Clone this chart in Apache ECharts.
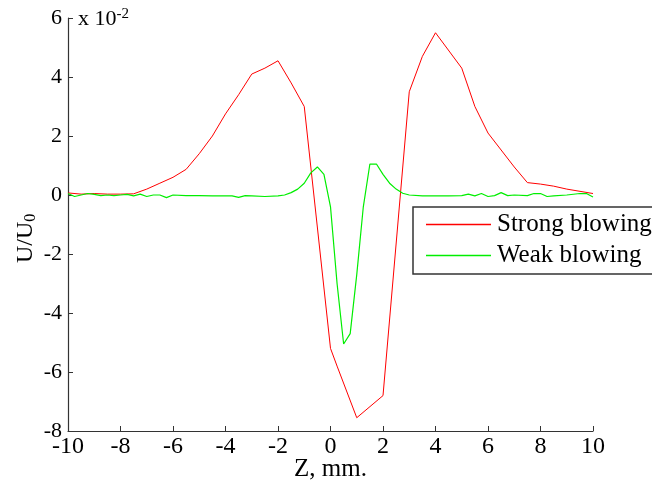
<!DOCTYPE html>
<html><head><meta charset="utf-8">
<script src="https://cdn.jsdelivr.net/npm/echarts@6/dist/echarts.min.js"></script>
<style>html,body{margin:0;padding:0;background:#fff}#c{width:652px;height:484px}</style>
</head><body><div id="c"></div>
<script>
const xTicks = [-10,-8,-6,-4,-2,0,2,4,6,8,10];
const yTicks = [-8,-6,-4,-2,0,2,4,6];
const seriesNames = ['Strong blowing','Weak blowing'];
const strongZ = [-10,-9.5,-9,-8.5,-8,-7.5,-7,-6.5,-6,-5.5,-5,-4.5,-4,-3.5,-3,-2.5,-2,-1.5,-1,0,0.25,1,2,3,3.5,4,5,5.5,6,7,7.5,8,8.5,9,10];
const strongV = [0.07,0.03,0.05,0.03,0.03,0.04,0.2,0.4,0.6,0.87,1.4,2.0,2.75,3.4,4.1,4.3,4.55,3.8,3.0,-5.2,-5.8,-7.55,-6.8,3.5,4.7,5.5,4.3,3.0,2.1,0.95,0.42,0.37,0.3,0.2,0.05];
const weakZ = [-10,-9.75,-9.5,-9.25,-9,-8.75,-8.5,-8.25,-8,-7.75,-7.5,-7.25,-7,-6.75,-6.5,-6.25,-6,-5.5,-5,-4.5,-4,-3.75,-3.5,-3.25,-3,-2.5,-2,-1.75,-1.5,-1.25,-1,-0.75,-0.5,-0.25,0,0.25,0.5,0.75,1,1.25,1.5,1.75,2,2.25,2.5,2.75,3,3.5,4,4.5,5,5.25,5.5,5.75,6,6.25,6.5,6.75,7,7.5,7.75,8,8.25,8.5,9,9.5,9.75,10];
const weakV = [0.05,-0.05,0.0,0.05,0.02,-0.02,0.0,-0.02,0.0,0.02,-0.03,0.03,-0.05,0.0,0.0,-0.09,0.0,-0.02,-0.02,-0.03,-0.03,-0.03,-0.08,-0.02,-0.03,-0.05,-0.03,0.0,0.08,0.2,0.4,0.75,0.95,0.7,-0.4,-3.0,-5.05,-4.7,-2.7,-0.4,1.05,1.05,0.7,0.4,0.2,0.06,0.0,-0.03,-0.03,-0.03,-0.02,0.03,-0.03,0.05,-0.05,-0.02,0.08,-0.02,0.0,-0.02,0.05,0.05,-0.05,-0.03,0.0,0.05,0.05,-0.07];

const font = 'Liberation Serif';
const chart = echarts.init(document.getElementById('c'), null, {renderer:'canvas'});
chart.setOption({
  animation:false,
  backgroundColor:'#fff',
  grid:{left:68,right:59,top:18,bottom:53,containLabel:false,outerBoundsMode:'none'},
  xAxis:{type:'value',min:xTicks[0],max:xTicks[xTicks.length-1],interval:2,
    name:'Z, mm.',nameLocation:'middle',nameGap:26,nameMoveOverlap:false,
    nameTextStyle:{fontFamily:font,fontSize:25,color:'#000'},
    axisLine:{show:true,onZero:false,lineStyle:{color:'#333',width:1.2}},
    axisTick:{show:true,inside:true,length:5,lineStyle:{color:'#333'}},
    axisLabel:{fontFamily:font,fontSize:24,color:'#000',margin:4},
    splitLine:{show:false}},
  yAxis:{type:'value',min:yTicks[0],max:yTicks[yTicks.length-1],interval:2,
    axisLine:{show:true,onZero:false,lineStyle:{color:'#333',width:1.2}},
    axisTick:{show:true,inside:true,length:5,lineStyle:{color:'#333'}},
    axisLabel:{fontFamily:font,fontSize:22,color:'#000',margin:6},
    splitLine:{show:false}},
  legend:{show:true,orient:'vertical',left:413,top:207,
    data:seriesNames,
    backgroundColor:'#fff',borderColor:'#333',borderWidth:1.5,borderRadius:0,
    padding:[5,6,6,13],itemGap:6,itemWidth:65,itemHeight:25,
    icon:'path://M0,0 L64,0 L64,1.5 L0,1.5 Z',
    textStyle:{fontFamily:font,fontSize:25,color:'#000',padding:[0,0,0,1]}},
  series:[
    {name:seriesNames[0],type:'line',data:strongZ.map((z,i)=>[z,strongV[i]]),
     symbol:'none',lineStyle:{color:'#ff0000',width:1},itemStyle:{color:'#ff0000'},z:2},
    {name:seriesNames[1],type:'line',data:weakZ.map((z,i)=>[z,weakV[i]]),
     symbol:'none',lineStyle:{color:'#00ee00',width:1.2},itemStyle:{color:'#00ee00'},z:3}
  ],
  graphic:[
    {type:'text',left:78,top:7,style:{
      text:'{a|x 10}{s|-2}',
      rich:{a:{fontFamily:font,fontSize:22,fill:'#000'},s:{fontFamily:font,fontSize:15,fill:'#000',verticalAlign:'top',padding:[0,0,10,0]}}}},
    {type:'text',x:12,y:263,rotation:Math.PI/2,style:{
      text:'{a|U/U}{s|0}',
      rich:{a:{fontFamily:font,fontSize:24,fill:'#000'},s:{fontFamily:font,fontSize:16,fill:'#000',padding:[11,0,0,0]}}}}
  ]
});
</script></body></html>
